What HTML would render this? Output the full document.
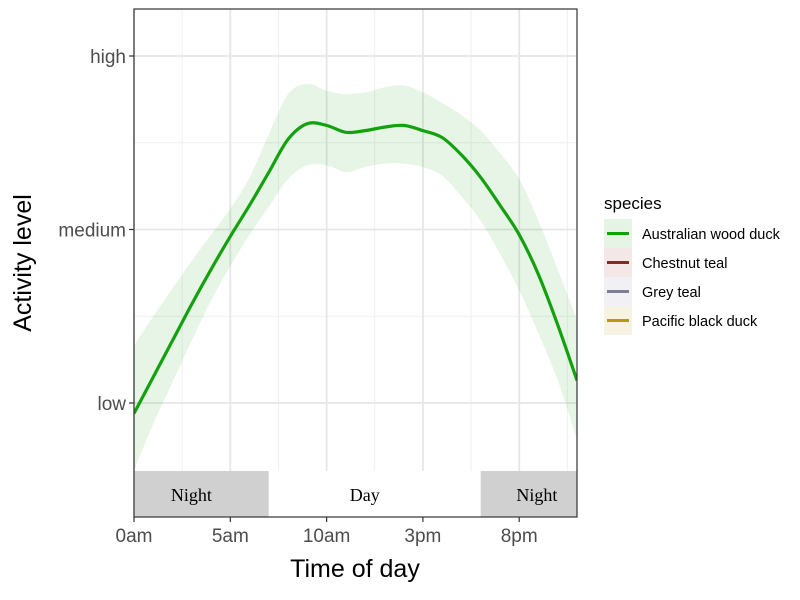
<!DOCTYPE html>
<html><head><meta charset="utf-8"><style>
html,body{margin:0;padding:0;background:#fff;width:800px;height:600px;overflow:hidden}
svg text{font-family:"Liberation Sans",sans-serif}
</style></head><body>
<svg id="chart" width="800" height="600" xmlns="http://www.w3.org/2000/svg"></svg>
<script>
const hours = [0,1,2,3,4,5,6,7,8,9,10,11,12,13,14,15,16,17,18,19,20,21,22,23];
const fitValues = [0.94,1.15,1.36,1.57,1.77,1.96,2.14,2.33,2.52,2.61,2.60,2.56,2.57,2.59,2.60,2.57,2.53,2.43,2.30,2.14,1.97,1.74,1.45,1.13];
const upperValues = [1.33,1.50,1.66,1.82,1.97,2.12,2.30,2.55,2.78,2.84,2.80,2.78,2.79,2.82,2.83,2.79,2.73,2.66,2.57,2.44,2.29,2.05,1.77,1.48];
const lowerValues = [0.61,0.88,1.12,1.36,1.59,1.79,1.97,2.13,2.29,2.37,2.37,2.33,2.36,2.38,2.38,2.36,2.31,2.19,2.05,1.86,1.65,1.40,1.13,0.79];
const xTickValues = [0,5,10,15,20];
const xTickLabels = ["0am","5am","10am","3pm","8pm"];
const yTickValues = [1,2,3];
const yTickLabels = ["low","medium","high"];
const periodStarts = [0,7,18];
const periodEnds = [7,18,23];
const periodLabels = ["Night","Day","Night"];
const legendLabels = ["Australian wood duck","Chestnut teal","Grey teal","Pacific black duck"];
const legendColors = ["#13a10e","#7b2d26","#7c7f96","#b59b12"];
const legendFills = ["#e6f4e5","#f3e8e7","#f1f1f5","#f7f3e2"];

const svg = document.getElementById('chart');
const NS = 'http://www.w3.org/2000/svg';
const L=134,R=577,T=9,B=517;
const x = h => L + (h-0)/(23-0)*(R-L);
const y = v => 403 - (v-1)*173.5;
function mk(tag, attrs, parent){const e=document.createElementNS(NS,tag);for(const k in attrs)e.setAttribute(k,attrs[k]);(parent||svg).appendChild(e);return e;}

let e;
e = mk('rect',{x:L,y:T,width:R-L,height:B-T,fill:'#fff'});


[1.5,2.5].forEach(v=>{e=mk('line',{x1:L,x2:R,y1:y(v),y2:y(v),stroke:'#f0f0f0','stroke-width':1});

});
[2.5,7.5,12.5,17.5,22.5].forEach(v=>{e=mk('line',{x1:x(v),x2:x(v),y1:T,y2:B,stroke:'#f0f0f0','stroke-width':1});

});
yTickValues.forEach(v=>{e=mk('line',{x1:L,x2:R,y1:y(v),y2:y(v),stroke:'#e6e6e6','stroke-width':1.8});

});
xTickValues.forEach(v=>{e=mk('line',{x1:x(v),x2:x(v),y1:T,y2:B,stroke:'#e6e6e6','stroke-width':1.8});

});

function smooth(pts){let d='M'+pts[0][0]+','+pts[0][1];
for(let i=0;i<pts.length-1;i++){const p0=pts[Math.max(0,i-1)],p1=pts[i],p2=pts[i+1],p3=pts[Math.min(pts.length-1,i+2)];
d+=' C'+(p1[0]+(p2[0]-p0[0])/6)+','+(p1[1]+(p2[1]-p0[1])/6)+' '+(p2[0]-(p3[0]-p1[0])/6)+','+(p2[1]-(p3[1]-p1[1])/6)+' '+p2[0]+','+p2[1];}
return d;}
const up = hours.map((h,i)=>[x(h),y(upperValues[i])]);
const lo = hours.map((h,i)=>[x(h),y(lowerValues[i])]).reverse();
const clip = mk('clipPath',{id:'pc'}); mk('rect',{x:L,y:T,width:R-L,height:B-T},clip);
const bandD = smooth(up)+' L'+smooth(lo).slice(1)+' Z';
e = mk('path',{d:bandD,fill:'#13a10e','fill-opacity':0.1,'clip-path':'url(#pc)'});



periodLabels.forEach((lab,i)=>{
  e = mk('rect',{x:x(periodStarts[i]),y:471,width:x(periodEnds[i])-x(periodStarts[i]),height:B-471,fill:lab==='Night'?'#d0d0d0':'#fff'});
  
  
  const cx = (x(periodStarts[i])+x(periodEnds[i]))/2 + (i===2?8:-10);
  e = mk('text',{x:cx,y:501,'text-anchor':'middle','font-size':18,fill:'#000',style:'font-family:"Liberation Serif",serif'});
  e.textContent = lab;
  
  
});

const fit = hours.map((h,i)=>[x(h),y(fitValues[i])]);
e = mk('path',{d:smooth(fit),fill:'none',stroke:'#13a10e','stroke-width':3.2,'clip-path':'url(#pc)'});



e = mk('rect',{x:L,y:T,width:R-L,height:B-T,fill:'none',stroke:'#333','stroke-width':1.2});



xTickValues.forEach((v,i)=>{
  mk('line',{x1:x(v),x2:x(v),y1:B,y2:B+5,stroke:'#333','stroke-width':1.2});
  e = mk('text',{x:x(v),y:B+25,'text-anchor':'middle','font-size':19,fill:'#4d4d4d'});
  e.textContent = xTickLabels[i];
  
  
});
yTickValues.forEach((v,i)=>{
  mk('line',{x1:L-5,x2:L,y1:y(v),y2:y(v),stroke:'#333','stroke-width':1.2});
  e = mk('text',{x:L-8,y:y(v)+7,'text-anchor':'end','font-size':19,fill:'#4d4d4d'});
  e.textContent = yTickLabels[i];
  
  
});
e = mk('text',{x:355,y:577,'text-anchor':'middle','font-size':25,fill:'#000'});
e.textContent='Time of day';


e = mk('text',{x:0,y:0,'text-anchor':'middle','font-size':25,fill:'#000',transform:'translate(31,263) rotate(-90)'});
e.textContent='Activity level';



e = mk('text',{x:604,y:209,'font-size':17,fill:'#000'});
e.textContent='species';


legendLabels.forEach((lab,i)=>{
  const yy = 219 + i*29;
  const g = mk('g',{});
  
  
  mk('rect',{x:604,y:yy,width:28,height:29,fill:legendFills[i]},g);
  mk('line',{x1:607,x2:629,y1:yy+14.5,y2:yy+14.5,stroke:legendColors[i],'stroke-width':3},g);
  const t = mk('text',{x:642,y:yy+20,'font-size':14.5,fill:'#000'},g);
  t.textContent = lab;
});
</script>
</body></html>
